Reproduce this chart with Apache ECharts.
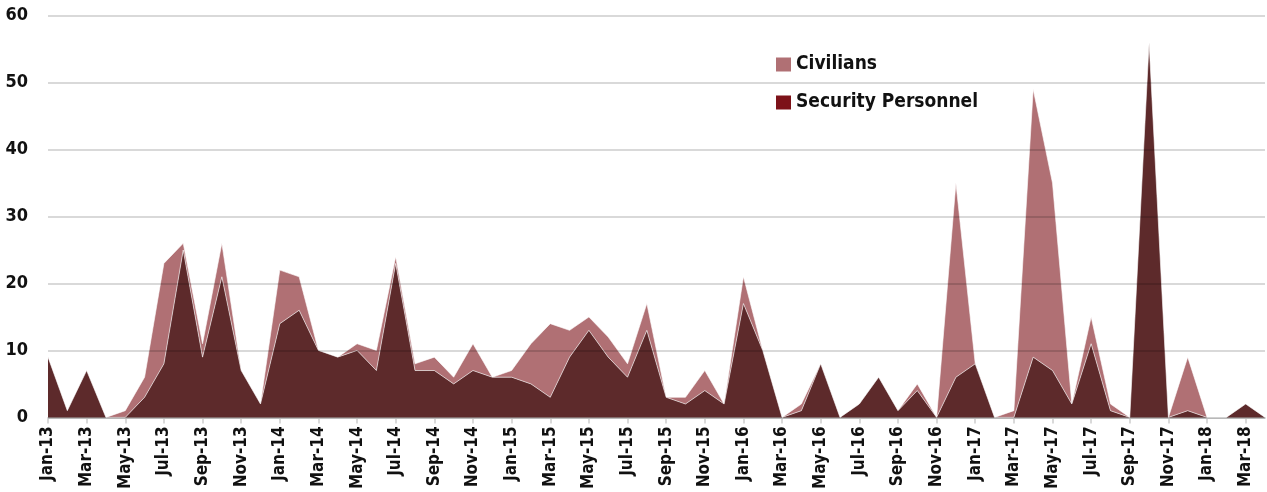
<!DOCTYPE html>
<html>
<head>
<meta charset="utf-8">
<script src="https://cdn.jsdelivr.net/npm/echarts@6/dist/echarts.min.js"></script>
<style>
html,body{margin:0;padding:0;background:#fff;}
#chart{width:1267px;height:492px;}
</style>
</head>
<body>
<div id="chart"></div>
<script>
const months = ["Jan-13","Feb-13","Mar-13","Apr-13","May-13","Jun-13","Jul-13","Aug-13","Sep-13","Oct-13","Nov-13","Dec-13",
"Jan-14","Feb-14","Mar-14","Apr-14","May-14","Jun-14","Jul-14","Aug-14","Sep-14","Oct-14","Nov-14","Dec-14",
"Jan-15","Feb-15","Mar-15","Apr-15","May-15","Jun-15","Jul-15","Aug-15","Sep-15","Oct-15","Nov-15","Dec-15",
"Jan-16","Feb-16","Mar-16","Apr-16","May-16","Jun-16","Jul-16","Aug-16","Sep-16","Oct-16","Nov-16","Dec-16",
"Jan-17","Feb-17","Mar-17","Apr-17","May-17","Jun-17","Jul-17","Aug-17","Sep-17","Oct-17","Nov-17","Dec-17",
"Jan-18","Feb-18","Mar-18","Apr-18"];

const security = [9,1,7,0,0,3,8,25,9,21,7,2,
14,16,10,9,10,7,23,7,7,5,7,6,
6,5,3,9,13,9,6,13,3,2,4,2,
17,10,0,1,8,0,2,6,1,4,0,6,
8,0,0,9,7,2,11,1,0,56,0,1,
0,0,2,0];

const civilians = [0,0,0,0,1,3,15,1,2,5,0,0,
8,5,0,0,1,3,1,1,2,1,4,0,
1,6,11,4,2,3,2,4,0,1,3,0,
4,0,0,1,0,0,0,0,0,1,0,29,
0,0,1,40,28,0,4,1,0,0,0,8,
0,0,0,0];

const yTicks = [0,10,20,30,40,50,60];
const seriesNames = ["Civilians","Security Personnel"];

const FONT = "'Liberation Sans Narrow','DejaVu Sans Condensed',sans-serif";

const chart = echarts.init(document.getElementById('chart'), null, {renderer:'canvas'});
chart.setOption({
  animation:false,
  backgroundColor:'#ffffff',
  grid:{left:48,right:2,top:15.7,bottom:70.3,containLabel:false},
  legend:{
    orient:'vertical',
    left:776, top:55,
    padding:0,
    itemWidth:15, itemHeight:14, itemGap:19,
    icon:'rect',
    textStyle:{fontFamily:FONT,fontSize:19,fontWeight:'bold',color:'#111'},
    data:[
      {name:seriesNames[0], itemStyle:{color:'#b07074'}},
      {name:seriesNames[1], itemStyle:{color:'#7d1219'}}
    ]
  },
  xAxis:{
    type:'category',
    data:months,
    boundaryGap:false,
    axisLine:{lineStyle:{color:'#d9d9d9',width:2}},
    axisTick:{interval:1,length:6,lineStyle:{color:'#d9d9d9',width:2}},
    axisLabel:{interval:1,rotate:90,fontFamily:FONT,fontSize:17,fontWeight:'bold',color:'#111',margin:9}
  },
  yAxis:{
    type:'value',
    min:yTicks[0], max:yTicks[yTicks.length-1], interval:10,
    z:5,
    axisLine:{show:false},
    axisTick:{show:false},
    splitLine:{lineStyle:{color:'rgba(0,0,0,0.15)',width:2}},
    axisLabel:{fontFamily:FONT,fontSize:18,fontWeight:'bold',color:'#111',margin:20}
  },
  series:[
    {
      name:seriesNames[1], type:'line', stack:'total', data:security,
      symbol:'none', z:2,
      itemStyle:{color:'#7d1219'},
      lineStyle:{color:'rgba(255,255,255,0.6)',width:1},
      areaStyle:{color:'#5d2a2b',opacity:1}
    },
    {
      name:seriesNames[0], type:'line', stack:'total', data:civilians,
      symbol:'none', z:1,
      itemStyle:{color:'#b07074'},
      lineStyle:{color:'rgba(255,255,255,0.6)',width:1},
      areaStyle:{color:'#b07074',opacity:1}
    }
  ]
});
</script>
</body>
</html>
